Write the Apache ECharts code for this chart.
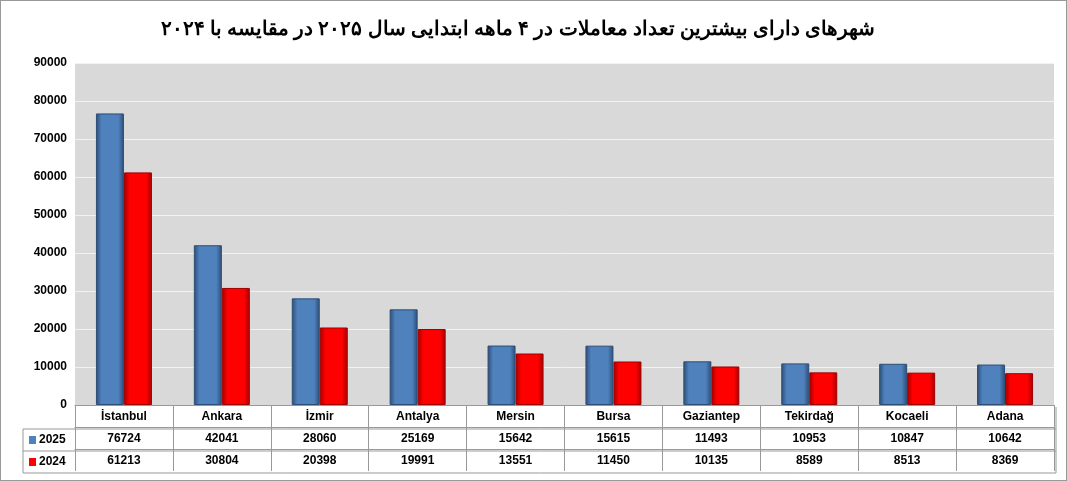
<!DOCTYPE html>
<html><head><meta charset="utf-8">
<script src="https://cdn.jsdelivr.net/npm/echarts@6/dist/echarts.min.js"></script>
<style>html,body{margin:0;padding:0;background:#fff}#c{width:1067px;height:481px;box-sizing:border-box;border:1px solid #999}</style>
</head><body><div id="c"></div>
<script>
const cities = ["İstanbul","Ankara","İzmir","Antalya","Mersin","Bursa","Gaziantep","Tekirdağ","Kocaeli","Adana"];
const v2025 = [76724,42041,28060,25169,15642,15615,11493,10953,10847,10642];
const v2024 = [61213,30804,20398,19991,13551,11450,10135,8589,8513,8369];
const title = "شهرهای دارای بیشترین تعداد معاملات در ۴ ماهه ابتدایی سال ۲۰۲۵ در مقایسه با ۲۰۲۴";

const chart = echarts.init(document.getElementById("c"));
const grad = (a, b) => new echarts.graphic.LinearGradient(0, 0, 1, 0, [
  {offset: 0, color: b}, {offset: 0.2, color: a}, {offset: 0.8, color: a}, {offset: 1, color: b}]);
const L = 74, R = 1055, T = 62, B = 406;
const tableAxis = (vals, off) => ({
  type: "category", data: vals.map(String), position: "bottom", offset: off, gridIndex: 0,
  axisLine: {show: true, lineStyle: {color: "#999"}}, axisTick: {show: true, length: 22, inside: false, lineStyle: {color: "#999"}},
  axisLabel: {fontSize: 12, fontWeight: "bold", color: "#000", margin: 6, fontFamily: "Liberation Sans"}
});
chart.setOption({
  animation: false,
  title: {text: title, left: 512, top: 13, textAlign: "center",
    textStyle: {fontSize: 20, fontWeight: "bold", color: "#000", fontFamily: "Noto Sans"}},
  grid: {left: L, right: 1067 - R, top: T, bottom: 481 - B, backgroundColor: "#d9d9d9", show: true, borderWidth: 0},
  xAxis: [
    {type: "category", data: cities, axisLine: {lineStyle: {color: "#999"}},
     axisTick: {show: true, length: 22, lineStyle: {color: "#999"}},
     axisLabel: {fontSize: 12, fontWeight: "bold", color: "#000", margin: 6, fontFamily: "Liberation Sans"}},
    tableAxis(v2025, 22), tableAxis(v2024, 44)
  ],
  yAxis: {type: "value", min: 0, max: 90000, interval: 10000,
    axisLabel: {fontSize: 12, fontWeight: "bold", color: "#000", fontFamily: "Liberation Sans", formatter: v => String(v)},
    splitLine: {lineStyle: {color: "#f2f2f2"}}, axisLine: {show: false}},
  series: [
    {name: "2025", type: "bar", data: v2025, barWidth: 28, barGap: "0%",
     itemStyle: {color: grad("#4f81bd", "#2c4d75"), borderColor: "#2c4d75", borderWidth: 1}},
    {name: "2024", type: "bar", data: v2024, barWidth: 28,
     itemStyle: {color: grad("#ff0000", "#a00000"), borderColor: "#a00000", borderWidth: 1}}
  ],
  graphic: [
    {type: "line", shape: {x1: 22, y1: 428, x2: R, y2: 428}, style: {stroke: "#999"}},
    {type: "line", shape: {x1: 22, y1: 450, x2: R, y2: 450}, style: {stroke: "#999"}},
    {type: "line", shape: {x1: 22, y1: 472, x2: R, y2: 472}, style: {stroke: "#999"}},
    {type: "line", shape: {x1: 22, y1: 428, x2: 22, y2: 472}, style: {stroke: "#999"}},
    {type: "line", shape: {x1: R, y1: 406, x2: R, y2: 472}, style: {stroke: "#999"}},
    {type: "rect", shape: {x: 28, y: 435, width: 7, height: 8}, style: {fill: "#4f81bd"}},
    {type: "text", x: 38, y: 433, style: {text: "2025", fontSize: 12, fontWeight: "bold", fontFamily: "Liberation Sans"}},
    {type: "rect", shape: {x: 28, y: 457, width: 7, height: 8}, style: {fill: "#ff0000"}},
    {type: "text", x: 38, y: 455, style: {text: "2024", fontSize: 12, fontWeight: "bold", fontFamily: "Liberation Sans"}}
  ]
});
</script></body></html>
